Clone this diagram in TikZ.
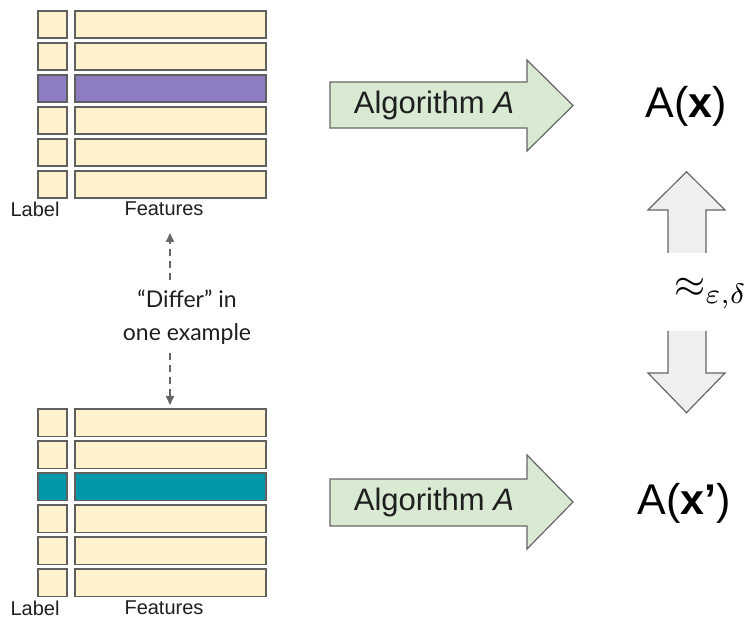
\documentclass[tikz,border=0pt]{standalone}
\usepackage{graphicx}
\usepackage{fontspec}
\setmainfont{Liberation Sans}
\newfontfamily\latofont{Lato}
\usetikzlibrary{arrows.meta}
\definecolor{cream}{HTML}{FFF2CC}
\definecolor{rowborder}{HTML}{5F5F5F}
\definecolor{purp}{HTML}{8E7CC3}
\definecolor{tealc}{HTML}{0097A7}
\definecolor{greenf}{HTML}{D9EAD3}
\definecolor{greyf}{HTML}{EFEFEF}
\definecolor{edgec}{HTML}{666666}
\definecolor{txt}{HTML}{1F1F1F}
\tikzset{
  cell/.style={draw=rowborder, line width=1.6pt, fill=cream, inner sep=0pt, minimum height=27.4pt},
  lcell/.style={cell, minimum width=28.8pt},
  fcell/.style={cell, minimum width=191pt},
  caption/.style={inner sep=0pt, text=txt, font=\fontsize{20}{24}\selectfont},
  bigarrow/.style={draw=edgec, line width=1.2pt, fill=greenf, line join=miter},
  vfill/.style={fill=greyf},
  vdraw/.style={draw=edgec, line width=1.2pt, line join=miter},
  algtext/.style={inner sep=0pt, text=txt, font=\fontsize{31}{36}\selectfont},
  result/.style={inner sep=0pt, text=black, font=\fontsize{43}{50}\selectfont},
  dasharrow/.style={draw=edgec, line width=1.6pt, dash pattern=on 7pt off 5pt, -{Triangle[width=8pt,length=9pt]}},
}
\begin{document}
\begin{tikzpicture}[x=1pt,y=-1pt]
\useasboundingbox (0,0) rectangle (745,620);
% top table
\foreach \i/\c in {1/cream,2/cream,3/purp,4/cream,5/cream,6/cream}{
  \node[lcell, fill=\c] (tL\i) at (52.5, {24.5+32*(\i-1)}) {};
  \node[fcell, fill=\c] (tF\i) at (170.3, {24.5+32*(\i-1)}) {};
}
\node[caption] (tlab) at (35,209) {Label};
\node[caption] (tfeat) at (164,209) {Features};
% bottom table
\foreach \i/\c in {1/cream,2/cream,3/tealc,4/cream,5/cream,6/cream}{
  \node[lcell, fill=\c] (bL\i) at (52.5, {422.8+32*(\i-1)}) {};
  \node[fcell, fill=\c] (bF\i) at (170.3, {422.8+32*(\i-1)}) {};
}
\node[caption] (blab) at (35,608) {Label};
\node[caption] (bfeat) at (164,608) {Features};
% differ text and dashed arrows
\node[inner sep=0pt, text=txt, align=center, font=\latofont\fontsize{23}{33}\selectfont] (diff) at (187,317) {“Differ” in\\one example};
\coordinate (dtopA) at (170,280);
\coordinate (dtopB) at (170,233);
\coordinate (dbotA) at (170,353);
\coordinate (dbotB) at (170,405);
\draw[dasharrow] (dtopA) -- (dtopB);
\draw[dasharrow] (dbotA) -- (dbotB);
% algorithm arrows
\draw[bigarrow] (330,82) -- (527,82) -- (527,60) -- (573,105.5) -- (527,151) -- (527,128) -- (330,128) -- cycle;
\node[algtext] (alg1) at (434,105) {Algorithm \textit{A}};
\draw[bigarrow] (330,479) -- (527,479) -- (527,455) -- (573,502) -- (527,549) -- (527,526) -- (330,526) -- cycle;
\node[algtext] (alg2) at (434,502) {Algorithm \textit{A}};
% results
\node[result] (ax) at (686,106) {A(\textbf{x})};
\node[result] (axp) at (684,503) {A(\textbf{x’})};
% vertical arrows
\fill[vfill] (668,253) -- (668,210) -- (648,210) -- (686.5,171.7) -- (725,210) -- (706,210) -- (706,253) -- cycle;
\draw[vdraw] (668,253) -- (668,210) -- (648,210) -- (686.5,171.7) -- (725,210) -- (706,210) -- (706,253);
\fill[vfill] (668,331) -- (668,373) -- (648,373) -- (686.5,412.7) -- (725,373) -- (706,373) -- (706,331) -- cycle;
\draw[vdraw] (668,331) -- (668,373) -- (648,373) -- (686.5,412.7) -- (725,373) -- (706,373) -- (706,331);
\node[inner sep=0pt, anchor=west] (approx) at (674,294) {\scalebox{4.0}{$\approx_{\varepsilon,\delta}$}};
\end{tikzpicture}
\end{document}
